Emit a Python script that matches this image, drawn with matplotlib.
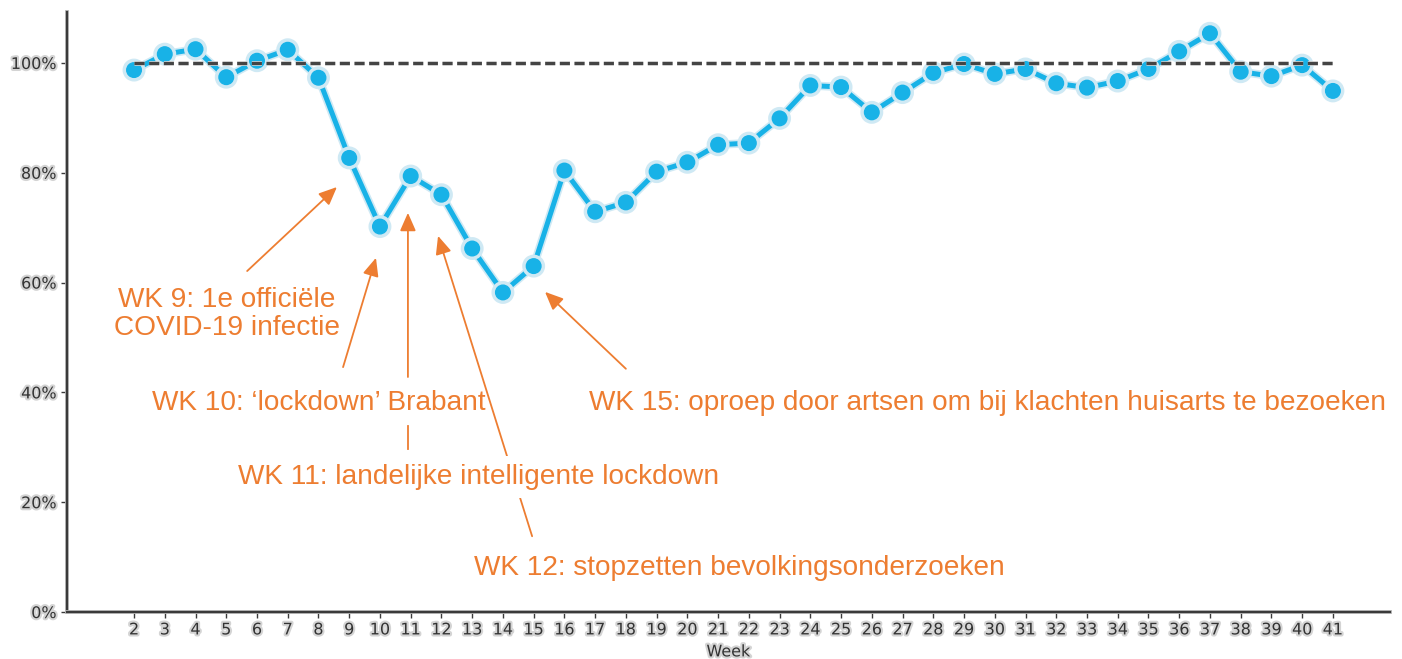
import matplotlib
matplotlib.use("Agg")
import matplotlib.pyplot as plt
import matplotlib.patheffects as pe
from matplotlib.ticker import PercentFormatter

weeks = list(range(2, 42))
values = [98.7, 101.6, 102.5, 97.4, 100.4, 102.4, 97.3, 82.7, 70.2, 79.4,
          76.0, 66.2, 58.2, 63.0, 80.4, 72.9, 74.6, 80.2, 81.9, 85.1,
          85.4, 89.9, 95.9, 95.6, 91.0, 94.6, 98.2, 99.8, 98.0, 98.9,
          96.3, 95.5, 96.7, 98.9, 102.1, 105.4, 98.4, 97.6, 99.6, 94.9]
reference = 100
y_ticks = [0, 20, 40, 60, 80, 100]

# annotations: text, text position (week, %), arrow tail, arrow head, white box behind text
ann_texts = ["WK 9: 1e officiële\nCOVID-19 infectie",
             "WK 10: ‘lockdown’ Brabant",
             "WK 11: landelijke intelligente lockdown",
             "WK 12: stopzetten bevolkingsonderzoeken",
             "WK 15: oproep door artsen om bij klachten huisarts te bezoeken"]
ann_text_pos = [(5.03, 54.3), (8.02, 38.1), (13.21, 24.6), (21.68, 8.0), (29.78, 38.1)]
ann_tail = [(5.68, 62.1), (8.80, 44.6), (10.91, 42.8), (14.95, 13.8), (18.0, 44.3)]
ann_head = [(8.60, 77.4), (9.87, 64.5), (10.91, 72.7), (11.89, 68.5), (15.37, 58.3)]
ann_boxed = [False, False, True, False, False]
# lower stub of the WK 11 arrow, below the WK 10 label
stub_x = [10.91, 10.91]
stub_y = [33.9, 29.7]

orange = "#ED7D31"
blue = "#18B2E7"
dark = "#3a3a3a"

fig = plt.figure(figsize=(14.02, 6.59), dpi=100)
ax = fig.add_axes([0.0478, 0.0713, 0.9437, 0.9107])

halo = [pe.withStroke(linewidth=3, foreground="#d4d4d4")]

ax.plot(weeks, values, color=blue, lw=3.6, marker="o", markersize=10.5,
        zorder=3,
        path_effects=[pe.Stroke(linewidth=6.0, foreground="#cfe9f4"), pe.Normal()])
ax.plot([weeks[0], weeks[-1]], [reference, reference], color="#444444", lw=2.2,
        linestyle=(0, (3.3, 1.5)), zorder=4,
        path_effects=[pe.Stroke(linewidth=3.4, foreground="#cccccc"), pe.Normal()])

ax.set_xlim(-0.18, 42.86)
ax.set_ylim(0, 109.3)
ax.set_xticks(weeks)
ax.set_xticklabels([str(w) for w in weeks])
ax.set_yticks(y_ticks)
ax.yaxis.set_major_formatter(PercentFormatter(decimals=0))

for s in ["top", "right"]:
    ax.spines[s].set_visible(False)
for s in ["left", "bottom"]:
    ax.spines[s].set_color(dark)
    ax.spines[s].set_linewidth(1.6)
    ax.spines[s].set_path_effects([pe.Stroke(linewidth=2.8, foreground="#bbbbbb"), pe.Normal()])

ax.tick_params(axis="both", colors=dark, labelsize=11.5, length=4, width=1.0,
               labelcolor="#333333")
for lab in ax.get_xticklabels() + ax.get_yticklabels():
    lab.set_path_effects(halo)
ax.set_xlabel("Week", fontsize=11.5, color="#333333", labelpad=5, path_effects=halo)

ax.plot(stub_x, stub_y, color=orange, lw=1.3, zorder=5)
for t, tp, tail, head, boxed in zip(ann_texts, ann_text_pos, ann_tail, ann_head, ann_boxed):
    ax.annotate("", xy=head, xytext=tail,
                arrowprops=dict(arrowstyle="-|>,head_length=0.5,head_width=0.22",
                                color=orange, lw=1.3, mutation_scale=22,
                                shrinkA=0, shrinkB=0),
                zorder=5)
    kw = {}
    if boxed:
        kw["bbox"] = dict(boxstyle="square,pad=0.3", fc="white", ec="none")
    ax.text(tp[0], tp[1], t, ha="center", va="center", color=orange,
            fontsize=20.2, family=["Liberation Sans", "DejaVu Sans"],
            linespacing=1.1, zorder=6, **kw)

fig.savefig("out.png", dpi=100)
